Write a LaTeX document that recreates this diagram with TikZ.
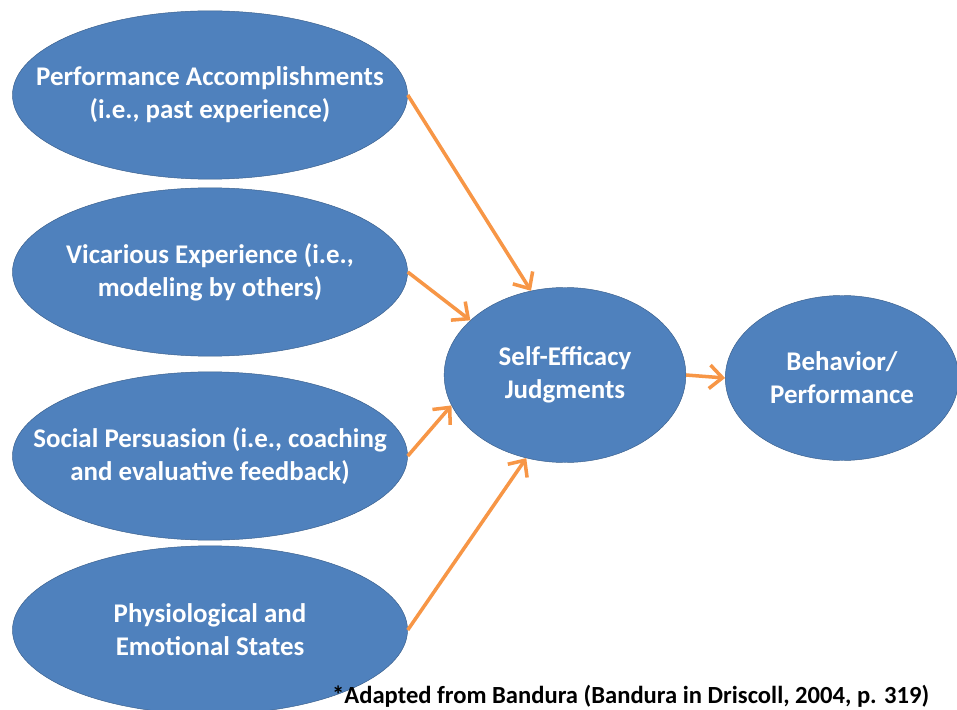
\documentclass[tikz,border=0pt]{standalone}
\usepackage{fontspec}
\setmainfont{Carlito}
\usetikzlibrary{arrows.meta}
\usetikzlibrary{shapes.geometric}
\definecolor{ovalblue}{HTML}{4F81BD}
\definecolor{ovalrim}{HTML}{3A5F8C}
\definecolor{arroworange}{HTML}{F79646}
\tikzset{source/.style={ % the blue ovals, size fixed by minimum width/height
           ellipse, draw=ovalrim, fill=ovalblue, thin,
           text=white, align=center, inner xsep=-1.6cm, inner ysep=0pt,
           font=\fontsize{23}{28}\selectfont\bfseries,
           minimum width=11.85cm, minimum height=5.05cm},
         every edge/.style={ % orange arrows into the ovals
           draw=arroworange, line width=3pt,
           -{Straight Barb[length=11pt,width=20pt,line width=3pt]}}}

\begin{document}
\begin{tikzpicture}[x=0.03cm,y=-0.03cm]
\clip (0,0) rectangle (957,710);
\fill[white] (0,0) rectangle (957,710);

\begin{scope}[every node/.style={source}]
    \node (perf)   at (210,95)  {Performance Accomplishments\\(i.e., past experience)};
    \node (vicar)  at (210,272) {Vicarious Experience (i.e.,\\modeling by others)};
    \node (social) at (210,456) {Social Persuasion (i.e., coaching\\and evaluative feedback)};
    \node (physio) at (210,630) {Physiological and\\Emotional States};
    \node[minimum width=7.25cm,minimum height=5.25cm] (selfeff) at (565,375) {Self-Efficacy\\Judgments};
    \node[minimum width=7.0cm,minimum height=4.95cm] (behav) at (842,378) {Behavior/\\Performance};
\end{scope}

\path (perf.east)   edge (selfeff.112);
\path (vicar.east)  edge (selfeff.150);
\path (social.east) edge (selfeff.195);
\path (physio.east) edge (selfeff.245);
\path (selfeff.east) edge (behav.west);

\node[anchor=base west,font=\fontsize{21}{26}\selectfont\bfseries] (source) at (328,703)
    {*Adapted from Bandura (Bandura in Driscoll, 2004, p. 319)};
\end{tikzpicture}
\end{document}
